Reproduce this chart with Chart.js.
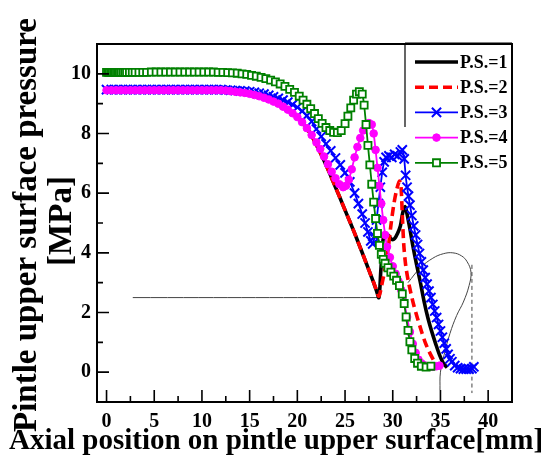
<!DOCTYPE html>
<html>
<head>
<meta charset="utf-8">
<script src="https://cdn.jsdelivr.net/npm/chart.js@4.4.0/dist/chart.umd.min.js"></script>
<style>
  html, body { margin: 0; padding: 0; background: #fff; }
</style>
</head>
<body>
<canvas id="pressureChart" width="544" height="461"></canvas>
<script>
// Axis ticks
const xTicks = [0, 5, 10, 15, 20, 25, 30, 35, 40];
const xMinor = [2.5, 7.5, 12.5, 17.5, 22.5, 27.5, 32.5, 37.5];
const yTicks = [0, 2, 4, 6, 8, 10];
const yMinor = [-1, 1, 3, 5, 7, 9];

const seriesLabels = ['P.S.=1', 'P.S.=2', 'P.S.=3', 'P.S.=4', 'P.S.=5'];

// [axial position mm, pressure MPa]
const ps1 = [
    [0,9.45],[12,9.45],[13,9.42],[14,9.38],[15,9.33],[16,9.25],[17,9.14],[18,9.0],[19,8.8],[20,8.55],
    [21,8.17],[21.5,7.92],[22,7.62],[22.5,7.3],[23,6.95],[23.5,6.58],[24,6.2],[24.5,5.82],[25,5.43],
    [25.5,5.05],[26,4.66],[26.5,4.25],[27,3.84],[27.5,3.42],[28,3.0],[28.3,2.72],[28.55,2.5],
    [28.75,3.4],[28.95,4.35],[29.15,4.62],[29.5,4.6],[29.9,4.45],[30.2,4.48],[30.5,4.65],[30.8,4.9],
    [31.05,5.35],[31.3,5.55],[31.5,5.3],[31.8,4.8],[32.1,4.25],[32.5,3.6],[32.9,3.0],[33.3,2.35],
    [33.7,1.8],[34.1,1.35],[34.5,0.95],[34.9,0.58],[35.3,0.3],[35.7,0.15]
];
const ps2 = [
    [0,9.45],[12,9.45],[13,9.42],[14,9.38],[15,9.33],[16,9.25],[17,9.14],[18,9.0],[19,8.8],[20,8.55],
    [21,8.17],[21.5,7.92],[22,7.62],[22.5,7.3],[23,6.95],[23.5,6.58],[24,6.2],[24.5,5.82],[25,5.43],
    [25.5,5.05],[26,4.66],[26.5,4.25],[27,3.84],[27.5,3.42],[28,3.0],[28.3,2.75],[28.55,2.55],
    [28.9,3.0],[29.2,3.5],[29.5,4.1],[29.8,4.9],[30.1,5.6],[30.4,6.1],[30.7,6.4],[30.85,6.3],
    [31.0,5.3],[31.15,4.3],[31.35,3.6],[31.6,3.1],[31.9,2.65],[32.2,2.25],[32.6,1.8],[33.0,1.38],
    [33.4,1.0],[33.8,0.7],[34.2,0.45],[34.6,0.25],[35.0,0.12]
];
const ps3 = [
    [0,9.47],[0.5,9.47],[1,9.47],[1.5,9.47],[2,9.47],[2.5,9.47],[3,9.47],[3.5,9.47],[4,9.47],[4.5,9.47],
    [5,9.47],[5.5,9.47],[6,9.47],[6.5,9.47],[7,9.47],[7.5,9.47],[8,9.47],[8.5,9.47],[9,9.47],[9.5,9.47],
    [10,9.47],[10.5,9.47],[11,9.47],[11.5,9.47],[12,9.47],[12.5,9.46],[13,9.45],[13.5,9.44],[14,9.43],
    [14.5,9.42],[15,9.4],[15.5,9.38],[16,9.35],[16.5,9.32],[17,9.28],[17.5,9.23],[18,9.18],[18.5,9.12],
    [19,9.05],[19.5,8.97],[20,8.88],[20.5,8.75],[21,8.6],[21.5,8.4],[22,8.15],[22.5,7.9],[23,7.65],
    [23.5,7.42],[24,7.18],[24.5,6.95],[25,6.68],[25.5,6.38],[26,6.0],[26.4,5.65],[26.8,5.3],[27.1,5.0],
    [27.4,4.7],[27.7,4.4],[27.9,4.3],[28.1,4.55],[28.3,5.1],[28.5,5.65],[28.7,6.2],[28.9,6.7],[29.1,7.05],
    [29.3,7.2],[29.6,7.25],[29.9,7.2],[30.2,7.3],[30.5,7.25],[30.8,7.38],[31.0,7.45],[31.2,7.15],
    [31.35,6.6],[31.5,6.2],[31.65,5.9],[31.8,5.6],[32.0,5.25],[32.2,4.9],[32.4,4.6],[32.6,4.28],
    [32.8,3.98],[33.0,3.7],[33.2,3.42],[33.4,3.17],[33.6,2.95],[33.8,2.72],[34.0,2.5],[34.2,2.27],
    [34.4,2.05],[34.6,1.83],[34.8,1.6],[35.0,1.38],[35.2,1.17],[35.4,0.97],[35.6,0.78],[35.8,0.6],
    [36.0,0.45],[36.2,0.35],[36.5,0.22],[36.8,0.15],[37.1,0.12],[37.4,0.1],[37.7,0.1],[38.0,0.1],
    [38.3,0.12],[38.5,0.18]
];
const ps4 = [
    [0,9.45],[0.5,9.45],[1,9.45],[1.5,9.45],[2,9.45],[2.5,9.45],[3,9.45],[3.5,9.45],[4,9.45],[4.5,9.45],
    [5,9.45],[5.5,9.45],[6,9.45],[6.5,9.45],[7,9.45],[7.5,9.45],[8,9.45],[8.5,9.45],[9,9.45],[9.5,9.45],
    [10,9.45],[10.5,9.45],[11,9.45],[11.5,9.45],[12,9.45],[12.5,9.44],[13,9.42],[13.5,9.4],[14,9.38],
    [14.5,9.36],[15,9.33],[15.5,9.29],[16,9.25],[16.5,9.2],[17,9.14],[17.5,9.07],[18,9.0],[18.5,8.9],
    [19,8.8],[19.5,8.68],[20,8.55],[20.5,8.38],[21,8.18],[21.5,7.95],[22,7.7],[22.4,7.48],[22.8,7.23],
    [23.2,6.97],[23.6,6.72],[24.0,6.5],[24.4,6.3],[24.8,6.2],[25.1,6.25],[25.4,6.45],[25.7,6.8],
    [26.0,7.2],[26.3,7.55],[26.6,7.85],[26.9,8.1],[27.2,8.27],[27.5,8.35],[27.8,8.3],[28.0,8.0],
    [28.2,7.45],[28.4,6.85],[28.6,6.25],[28.8,5.65],[29.0,5.1],[29.2,4.6],[29.4,4.2],[29.7,3.85],
    [30.0,3.55],[30.3,3.3],[30.6,3.05],[30.9,2.75],[31.2,2.35],[31.5,1.85],[31.8,1.35],[32.1,0.95],
    [32.4,0.65],[32.7,0.42],[33.0,0.3],[33.4,0.22],[33.8,0.18],[34.2,0.18],[34.6,0.2],[34.9,0.22]
];
const ps5 = [
    [0,10.05],[0.15,10.05],[0.3,10.05],[0.45,10.05],[0.6,10.05],[0.75,10.05],[0.9,10.05],[1.05,10.05],
    [1.2,10.05],[1.35,10.05],[1.5,10.05],[1.7,10.05],[1.9,10.05],[2.1,10.05],[2.4,10.05],[2.7,10.05],
    [3.0,10.05],[3.4,10.05],[3.8,10.05],[4.2,10.05],[4.7,10.06],[5.2,10.06],[5.7,10.06],[6.2,10.06],
    [6.7,10.06],[7.2,10.06],[7.7,10.06],[8.2,10.06],[8.7,10.06],[9.2,10.06],[9.7,10.06],[10.2,10.06],
    [10.7,10.06],[11.2,10.06],[11.7,10.05],[12.2,10.05],[12.7,10.04],[13.2,10.03],[13.7,10.02],
    [14.2,10.0],[14.7,9.98],[15.2,9.95],[15.7,9.92],[16.2,9.88],[16.7,9.84],[17.2,9.79],[17.7,9.73],
    [18.2,9.66],[18.7,9.58],[19.2,9.48],[19.7,9.38],[20.2,9.25],[20.6,9.12],[21.0,8.98],[21.4,8.83],
    [21.8,8.67],[22.2,8.5],[22.6,8.34],[23.0,8.2],[23.4,8.1],[23.8,8.04],[24.2,8.03],[24.6,8.1],
    [25.0,8.33],[25.3,8.58],[25.6,8.86],[25.9,9.12],[26.2,9.32],[26.5,9.4],[26.8,9.32],[27.0,8.95],
    [27.2,8.3],[27.4,7.6],[27.6,6.95],[27.8,6.3],[28.0,5.7],[28.2,5.15],[28.4,4.65],[28.6,4.25],
    [28.8,3.95],[29.0,3.78],[29.2,3.65],[29.5,3.5],[29.8,3.35],[30.1,3.22],[30.4,3.08],[30.7,2.9],
    [31.0,2.62],[31.2,2.3],[31.4,1.85],[31.6,1.4],[31.8,1.02],[32.0,0.75],[32.3,0.46],[32.6,0.3],
    [33.0,0.2],[33.5,0.17],[34.0,0.2]
];

// stray construction lines left in the original figure
const guideFlat = [[2.75,2.5],[28.5,2.5]];
const guideLoop = [[31.6,3.0],[32.9,3.5],[34.2,3.82],[35.3,3.97],[36.3,4.0],[37.2,3.9],[37.8,3.7],
    [38.2,3.35],[38.0,2.9],[37.4,2.35],[36.7,1.9],[36.0,1.3],[35.4,0.6],[35.0,0.0],[34.95,-0.6]];
const guideDash = [[38.3,3.6],[38.3,-0.7]];

const toPts = arr => arr.map(p => ({ x: p[0], y: p[1] }));
const FONT = '"Liberation Serif", "Times New Roman", serif';

function drawMarker(ctx, style, x, y, r, color, fill, bw) {
    ctx.save();
    ctx.lineWidth = bw;
    ctx.strokeStyle = color;
    ctx.fillStyle = fill;
    ctx.beginPath();
    if (style === 'rect') {
        const s = r / Math.SQRT2;
        ctx.rect(x - s, y - s, 2 * s, 2 * s);
        ctx.fill(); ctx.stroke();
    } else if (style === 'circle') {
        ctx.arc(x, y, r, 0, Math.PI * 2);
        ctx.fill(); ctx.stroke();
    } else if (style === 'crossRot') {
        const d = r * Math.SQRT1_2;
        ctx.moveTo(x - d, y - d); ctx.lineTo(x + d, y + d);
        ctx.moveTo(x - d, y + d); ctx.lineTo(x + d, y - d);
        ctx.stroke();
    }
    ctx.restore();
}

const decorPlugin = {
    id: 'decor',
    afterDraw(chart) {
        const { ctx, chartArea: a, scales: { x, y } } = chart;
        ctx.save();
        // frame
        ctx.strokeStyle = '#000';
        ctx.lineWidth = 2;
        ctx.strokeRect(a.left, a.top, a.right - a.left, a.bottom - a.top);
        // inward ticks
        ctx.lineWidth = 1.6;
        ctx.beginPath();
        xTicks.forEach(v => { const p = x.getPixelForValue(v); ctx.moveTo(p, a.bottom); ctx.lineTo(p, a.bottom - 12); });
        xMinor.forEach(v => { const p = x.getPixelForValue(v); ctx.moveTo(p, a.bottom); ctx.lineTo(p, a.bottom - 6); });
        yTicks.forEach(v => { const p = y.getPixelForValue(v); ctx.moveTo(a.left, p); ctx.lineTo(a.left + 12, p); });
        yMinor.forEach(v => { const p = y.getPixelForValue(v); ctx.moveTo(a.left, p); ctx.lineTo(a.left + 6, p); });
        ctx.stroke();

        // legend box edge
        ctx.lineWidth = 1.2;
        ctx.beginPath();
        ctx.moveTo(405, 43); ctx.lineTo(a.right, 43);
        ctx.moveTo(405, 43); ctx.lineTo(405, 127);
        ctx.stroke();

        // legend
        ctx.font = 'bold 18px ' + FONT;
        ctx.textBaseline = 'middle';
        ctx.textAlign = 'left';
        chart.data.datasets.forEach((ds, i) => {
            if (!ds.label) return;
            const ly = 62 + i * 25.2;
            ctx.save();
            ctx.strokeStyle = ds.borderColor;
            ctx.lineWidth = ds.borderWidth;
            ctx.setLineDash(ds.borderDash || []);
            ctx.beginPath();
            ctx.moveTo(415, ly); ctx.lineTo(458, ly);
            ctx.stroke();
            ctx.restore();
            if (ds.pointRadius > 0) {
                drawMarker(ctx, ds.pointStyle, 436.5, ly, ds.pointRadius, ds.pointBorderColor,
                    ds.pointBackgroundColor, ds.pointBorderWidth);
            }
            ctx.fillStyle = '#000';
            ctx.fillText(ds.label, 460, ly + 1);
        });

        // axis titles
        ctx.fillStyle = '#000';
        ctx.textAlign = 'center';
        ctx.textBaseline = 'middle';
        ctx.font = 'bold 29px ' + FONT;
        ctx.fillText('Axial position on pintle upper surface[mm]', 276, 442);
        ctx.font = 'bold 33px ' + FONT;
        ctx.save();
        ctx.translate(27, 225);
        ctx.rotate(-Math.PI / 2);
        ctx.fillText('Pintle upper surface pressure', 0, 0);
        ctx.restore();
        ctx.save();
        ctx.translate(62, 221);
        ctx.rotate(-Math.PI / 2);
        ctx.fillText('[MPa]', 0, 0);
        ctx.restore();
        ctx.restore();
    }
};

const thinLine = (data, dash) => ({
    data: toPts(data),
    borderColor: '#444',
    borderWidth: 1,
    borderDash: dash || [],
    pointRadius: 0,
    tension: 0.4,
    order: 10
});

const ctx = document.getElementById('pressureChart').getContext('2d');
const chart = new Chart(ctx, {
    type: 'line',
    data: {
        datasets: [{
            label: seriesLabels[0],
            data: toPts(ps1),
            borderColor: '#000000',
            borderWidth: 3.6,
            pointRadius: 0,
            tension: 0.3,
            order: 5
        }, {
            label: seriesLabels[1],
            data: toPts(ps2),
            borderColor: '#ff0000',
            borderWidth: 3.6,
            borderDash: [9, 5],
            pointRadius: 0,
            tension: 0.3,
            order: 4
        }, {
            label: seriesLabels[2],
            data: toPts(ps3),
            borderColor: '#0000ff',
            borderWidth: 1.8,
            pointStyle: 'crossRot',
            pointRadius: 6.5,
            pointBorderWidth: 2,
            pointBorderColor: '#0000ff',
            pointBackgroundColor: '#0000ff',
            tension: 0.2,
            order: 3
        }, {
            label: seriesLabels[3],
            data: toPts(ps4),
            borderColor: '#ff00ff',
            borderWidth: 1.8,
            pointStyle: 'circle',
            pointRadius: 3.8,
            pointBorderWidth: 1,
            pointBorderColor: '#ff00ff',
            pointBackgroundColor: '#ff00ff',
            tension: 0.2,
            order: 2
        }, {
            label: seriesLabels[4],
            data: toPts(ps5),
            borderColor: '#008000',
            borderWidth: 1.8,
            pointStyle: 'rect',
            pointRadius: 5,
            pointBorderWidth: 1.8,
            pointBorderColor: '#008000',
            pointBackgroundColor: '#ffffff',
            tension: 0.2,
            order: 1
        },
        thinLine(guideFlat),
        thinLine(guideLoop),
        thinLine(guideDash, [4, 3])]
    },
    options: {
        responsive: false,
        animation: false,
        devicePixelRatio: 1,
        layout: { padding: { left: 0, right: 32, top: 44, bottom: 0 } },
        plugins: { legend: { display: false }, tooltip: { enabled: false } },
        scales: {
            x: {
                type: 'linear',
                min: -1,
                max: 42.5,
                grid: { display: false, drawTicks: false },
                border: { display: false },
                afterBuildTicks: s => { s.ticks = xTicks.map(v => ({ value: v })); },
                afterFit: s => { s.height = 59; },
                ticks: { autoSkip: false, maxRotation: 0, padding: 8, color: '#000',
                    font: { family: FONT, size: 20, weight: 'bold' } }
            },
            y: {
                type: 'linear',
                min: -1,
                max: 11,
                grid: { display: false, drawTicks: false },
                border: { display: false },
                afterBuildTicks: s => { s.ticks = yTicks.map(v => ({ value: v })); },
                afterFit: s => { s.width = 97; },
                ticks: { autoSkip: false, padding: 6, color: '#000',
                    font: { family: FONT, size: 20, weight: 'bold' } }
            }
        }
    },
    plugins: [decorPlugin]
});
</script>
</body>
</html>
